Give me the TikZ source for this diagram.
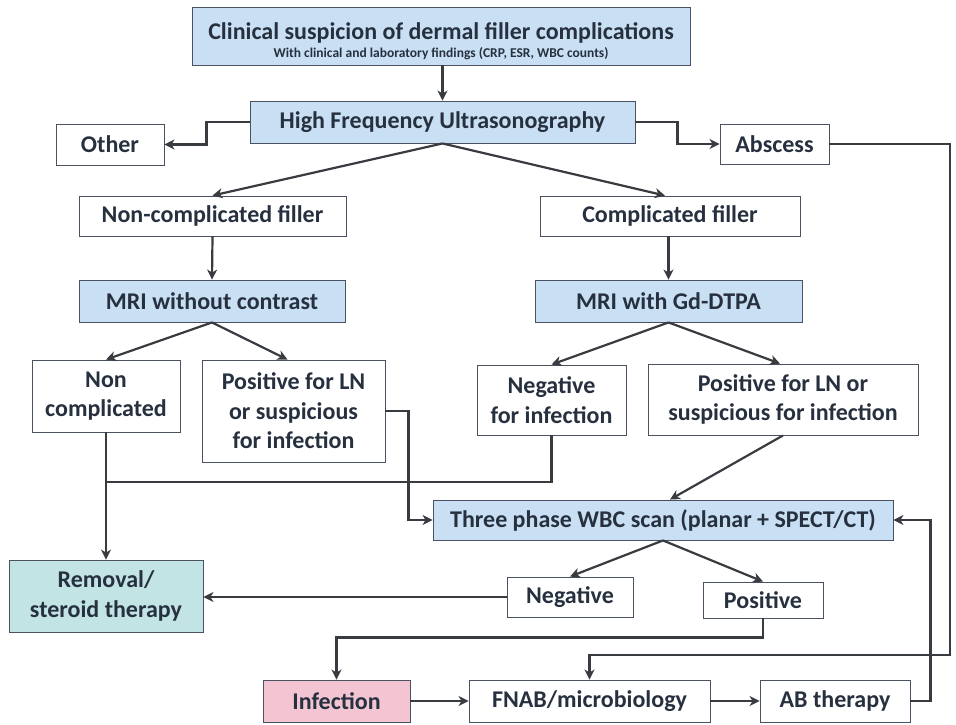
\documentclass[tikz,border=0pt]{standalone}
\usepackage{fontspec}
\setmainfont{Carlito}
\usepackage{tikz}
\usetikzlibrary{arrows.meta}

\definecolor{scanblue}{HTML}{C9E0F4}
\definecolor{mint}{HTML}{C3E4E4}
\definecolor{rose}{HTML}{F3C5D3}
\definecolor{boxline}{HTML}{4A5262}
\definecolor{wire}{HTML}{383B40}
\definecolor{ink}{HTML}{27303E}

\tikzset{
  box/.style={draw=boxline, line width=0.9pt, fill=white, align=center,
    inner sep=0pt, text=ink, font=\bfseries\fontsize{24}{29.5}\selectfont},
  bluebox/.style={box, fill=scanblue},
  link/.style={draw=wire, line width=2.2pt},
  arr/.style={link, -{Stealth[length=10pt,width=10pt,inset=3pt]}}
}

\begin{document}
\begin{tikzpicture}[x=1pt, y=-1pt]
    \useasboundingbox (0,0) rectangle (956,724);
    % first steps
    \node[bluebox, minimum width=498, minimum height=58] (clin) at (441, 36)
      {\rule{0pt}{27pt}Clinical suspicion of dermal filler complications\\[-12pt]
       {\fontsize{13.5}{15}\selectfont With clinical and laboratory findings (CRP, ESR, WBC counts)}};
    \node[bluebox, minimum width=385, minimum height=42] (hfus) at (442.5, 122) {High Frequency Ultrasonography};
    \node[box, minimum width=108, minimum height=41] (other) at (110, 144.5) {Other};
    \node[box, minimum width=109, minimum height=40] (absc) at (774.5, 144) {Abscess};
    \node[box, minimum width=267, minimum height=40] (ncfill) at (212.5, 216) {Non-complicated filler};
    \node[box, minimum width=260, minimum height=40] (cfill) at (670, 216) {Complicated filler};
    % MRI
    \node[bluebox, minimum width=266, minimum height=42] (mrino) at (212, 301) {MRI without contrast};
    \node[bluebox, minimum width=267, minimum height=42] (mrigd) at (668.5, 301) {MRI with Gd-DTPA};
    \node[box, minimum width=148, minimum height=72] (noncomp) at (106, 396) {Non\\complicated};
    \node[box, minimum width=183, minimum height=102] (posln) at (293.5, 411) {Positive for LN\\or suspicious\\for infection};
    \node[box, minimum width=149, minimum height=70] (neginf) at (551.5, 400) {Negative\\for infection};
    \node[box, minimum width=270, minimum height=71] (posinf) at (783, 399.5) {Positive for LN or\\suspicious for infection};
    % WBC scan
    \node[bluebox, minimum width=460, minimum height=40] (wbc) at (663, 520) {Three phase WBC scan (planar + SPECT/CT)};
    \node[box, minimum width=126, minimum height=40] (neg) at (570, 597) {Negative};
    \node[box, minimum width=120, minimum height=36] (pos) at (763, 600) {Positive};
    \node[box, fill=mint, minimum width=194, minimum height=72] (remov) at (106, 596) {Removal/\\steroid therapy};
    % treatment row
    \node[box, fill=rose, minimum width=147, minimum height=42] (infec) at (336.5, 701) {Infection};
    \node[box, minimum width=241, minimum height=42] (fnab) at (589.5, 701) {FNAB/microbiology};
    \node[box, minimum width=150, minimum height=42] (abther) at (835, 701) {AB therapy};
    \coordinate (join) at (106, 482);
    \coordinate (rcorner) at (950, 655);

    \draw[arr] (clin.south -| hfus.north) -- (hfus.north);
    \draw[arr] (hfus.west) -- ++(-43,0) |- (other.east);
    \draw[arr] (hfus.east) -- ++(42,0) |- (absc.west);
    \draw[arr] (hfus.south) -- (ncfill.north);
    \draw[arr] (hfus.south) -- ([xshift=-5pt]cfill.north);
    \draw[arr] (ncfill.south) -- (mrino.north);
    \draw[arr] (cfill.south -| mrigd.north) -- (mrigd.north);
    \draw[arr] (mrino.south) -- (noncomp.north);
    \draw[arr] (mrino.south) -- ([xshift=-6pt]posln.north);
    \draw[arr] (mrigd.south) -- (neginf.north);
    \draw[arr] (mrigd.south) -- ([xshift=-3pt]posinf.north);
    \draw[arr] (noncomp.south) -- (remov.north);
    \draw[link] (neginf.south) |- (join);
    \draw[arr] (posln.east) -- ++(23,0) |- (wbc.west);
    \draw[arr] (posinf.south) -- ([xshift=7pt]wbc.north);
    \draw[arr] (wbc.south) -- (neg.north);
    \draw[arr] (wbc.south) -- (pos.north);
    \draw[arr] (neg.west) -- (neg.west -| remov.east);
    \draw[arr] (pos.south) -- ++(0,19) -| (infec.north);
    \draw[arr] (absc.east) -| (rcorner) -| (fnab.north);
    \draw[arr] (infec.east) -- (fnab.west);
    \draw[arr] (fnab.east) -- (abther.west);
    \draw[arr] (abther.east) -- ++(20,0) |- (wbc.east);
  \end{tikzpicture}
\end{document}
